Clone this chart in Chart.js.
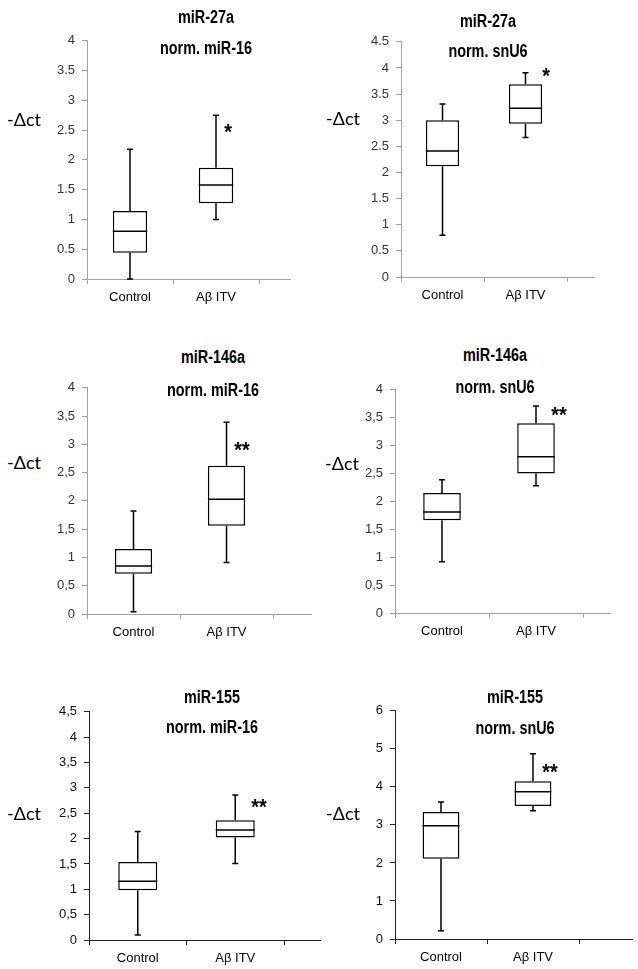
<!DOCTYPE html>
<html>
<head>
<meta charset="utf-8">
<script src="https://cdn.jsdelivr.net/npm/chart.js@4.4.1/dist/chart.umd.min.js"></script>
<style>
  body { margin: 0; background: #fff; }
  #page { position: relative; width: 638px; height: 969px; overflow: hidden; }
  canvas { position: absolute; }
  .title, .star, .ylab { position: absolute; white-space: nowrap; text-align: center; }
  .title { font-family: "Liberation Sans", Arial, sans-serif; font-weight: bold; font-size: 18px; line-height: 20px; width: 200px; color: #000; transform: scaleX(0.8); transform-origin: 50% 50%; }
  .star { font-family: "Liberation Sans", Arial, sans-serif; font-weight: bold; font-size: 22px; line-height: 22px; width: 40px; color: #000; transform: scaleX(0.9); }
  .ylab { font-family: Lato, "Open Sans", sans-serif; font-size: 18px; line-height: 20px; text-align: left; color: #000; }
</style>
</head>
<body>
<div id="page"></div>
<script>
// categories on the x axis
const categories = ["Control", "Aβ ITV"];

// five-number summaries per group: [whisker low, Q1, median, Q3, whisker high]
const miR27a_miR16 = [[0.00, 0.44, 0.80, 1.14, 2.18], [1.00, 1.27, 1.58, 1.87, 2.75]];
const miR27a_snU6 = [[0.80, 2.12, 2.41, 3.00, 3.31], [2.67, 2.93, 3.23, 3.69, 3.91]];
const miR146a_miR16 = [[0.04, 0.71, 0.85, 1.15, 1.82], [0.91, 1.56, 2.03, 2.62, 3.39]];
const miR146a_snU6 = [[0.92, 1.66, 1.81, 2.15, 2.39], [2.28, 2.50, 2.80, 3.40, 3.71]];
const miR155_miR16 = [[0.10, 0.98, 1.16, 1.54, 2.14], [1.51, 2.02, 2.17, 2.36, 2.86]];
const miR155_snU6 = [[0.22, 2.11, 2.98, 3.34, 3.60], [3.37, 3.50, 3.87, 4.15, 4.87]];

// y axis ticks
const yMax = [4, 4.5, 4, 4, 4.5, 6];
const yStep = [0.5, 0.5, 0.5, 0.5, 0.5, 1];
const decimalSep = [".", ".", ",", ",", ",", ","];

// texts
const titles = [
  ["miR-27a", "norm. miR-16"], ["miR-27a", "norm. snU6"],
  ["miR-146a", "norm. miR-16"], ["miR-146a", "norm. snU6"],
  ["miR-155", "norm. miR-16"], ["miR-155", "norm. snU6"]
];
const stars = ["*", "*", "**", "**", "**", "**"];
const yTitle = "-\u0394ct";

const summaries = [miR27a_miR16, miR27a_snU6, miR146a_miR16, miR146a_snU6, miR155_miR16, miR155_snU6];

// layout of each panel (page pixels): plot area, axis extension, text anchors
const panels = [
  { L: 87, T: 36, R: 259, B: 279, ext: 32, axis: "#a0a0a0", tickCol: "#333", title: [206, 17, 48], star: [228, 127], ylab: [7, 119] },
  { L: 401, T: 37, R: 567, B: 277, ext: 28, axis: "#a0a0a0", tickCol: "#333", title: [488, 21, 51], star: [546, 71], ylab: [326, 118] },
  { L: 87, T: 383, R: 273, B: 614, ext: 39, axis: "#a0a0a0", tickCol: "#333", title: [213, 357, 390], star: [242, 445], ylab: [7, 462] },
  { L: 395, T: 385, R: 583, B: 613, ext: 28, axis: "#a0a0a0", tickCol: "#333", title: [495, 355, 387], star: [559, 410], ylab: [325, 463] },
  { L: 89, T: 707, R: 284, B: 940, ext: 37, axis: "#222", tickCol: "#111", title: [212, 697, 727], star: [259, 802], ylab: [7, 813] },
  { L: 395, T: 706, R: 579, B: 939, ext: 54, axis: "#222", tickCol: "#111", title: [515, 697, 728], star: [550, 767], ylab: [326, 813] }
];

const Y_W = 44, X_H = 32, PAD_T = 10;

// draws median line and whiskers on top of the floating Q1-Q3 bars
const boxWhiskers = {
  id: "boxWhiskers",
  afterDatasetsDraw(chart, args, opts) {
    const ctx = chart.ctx;
    const y = chart.scales.y;
    const meta = chart.getDatasetMeta(0);
    ctx.save();
    ctx.strokeStyle = "#000";
    ctx.lineWidth = 1.5;
    meta.data.forEach((bar, i) => {
      const s = opts.summary[i];
      const half = bar.width / 2;
      const yMin = y.getPixelForValue(s[0]);
      const yQ1 = y.getPixelForValue(s[1]);
      const yMed = y.getPixelForValue(s[2]);
      const yQ3 = y.getPixelForValue(s[3]);
      const yHi = y.getPixelForValue(s[4]);
      ctx.beginPath();
      ctx.moveTo(bar.x - half, yMed);
      ctx.lineTo(bar.x + half, yMed);
      ctx.moveTo(bar.x, yQ3);
      ctx.lineTo(bar.x, yHi);
      ctx.moveTo(bar.x - 3, yHi);
      ctx.lineTo(bar.x + 3, yHi);
      ctx.moveTo(bar.x, yQ1);
      ctx.lineTo(bar.x, yMin);
      ctx.moveTo(bar.x - 3, yMin);
      ctx.lineTo(bar.x + 3, yMin);
      ctx.stroke();
    });
    ctx.restore();
  },
  afterDraw(chart, args, opts) {
    // x axis line runs on past the last tick
    const ctx = chart.ctx;
    const a = chart.chartArea;
    ctx.save();
    ctx.strokeStyle = opts.axisColor;
    ctx.lineWidth = 1;
    ctx.beginPath();
    ctx.moveTo(a.right, a.bottom + 0.5);
    ctx.lineTo(a.right + opts.ext, a.bottom + 0.5);
    ctx.stroke();
    ctx.restore();
  }
};

const page = document.getElementById("page");

function addText(cls, text, left, top) {
  const d = document.createElement("div");
  d.className = cls;
  d.textContent = text;
  d.style.left = left + "px";
  d.style.top = top + "px";
  page.appendChild(d);
}

panels.forEach((p, k) => {
  const canvas = document.createElement("canvas");
  const w = p.R - p.L + Y_W + p.ext + 8;
  const h = p.B - p.T + PAD_T + X_H;
  canvas.width = w;
  canvas.height = h;
  canvas.style.left = (p.L - Y_W) + "px";
  canvas.style.top = (p.T - PAD_T) + "px";
  canvas.style.width = w + "px";
  canvas.style.height = h + "px";
  page.appendChild(canvas);

  const tickFont = { family: "'Liberation Sans', Arial, sans-serif", size: 13 };
  const sep = decimalSep[k];

  new Chart(canvas.getContext("2d"), {
    type: "bar",
    data: {
      labels: categories,
      datasets: [{
        data: summaries[k].map((s) => [s[1], s[3]]),
        backgroundColor: "#fff",
        borderColor: "#000",
        borderWidth: 1.5,
        borderSkipped: false,
        barPercentage: 0.8,
        categoryPercentage: 0.5
      }]
    },
    options: {
      responsive: false,
      animation: false,
      devicePixelRatio: 1,
      layout: { padding: { top: PAD_T, right: p.ext + 8, left: 0, bottom: 0 } },
      plugins: {
        legend: { display: false },
        tooltip: { enabled: false },
        boxWhiskers: { summary: summaries[k], ext: p.ext, axisColor: p.axis }
      },
      scales: {
        x: {
          type: "category",
          offset: true,
          grid: { display: true, offset: true, drawOnChartArea: false, drawTicks: true, tickLength: 5, color: p.axis },
          border: { display: true, color: p.axis, width: 1 },
          ticks: { color: "#000", font: tickFont, padding: 6, maxRotation: 0 },
          afterFit(scale) { scale.height = X_H; }
        },
        y: {
          min: 0,
          max: yMax[k],
          grid: { display: true, drawOnChartArea: false, drawTicks: true, tickLength: 5, color: p.axis },
          border: { display: true, color: p.axis, width: 1 },
          ticks: {
            stepSize: yStep[k],
            color: p.tickCol,
            font: tickFont,
            padding: 7,
            callback: (v) => String(v).replace(".", sep)
          },
          afterFit(scale) { scale.width = Y_W; }
        }
      }
    },
    plugins: [boxWhiskers]
  });

  addText("title", titles[k][0], p.title[0] - 100, p.title[1] - 10);
  addText("title", titles[k][1], p.title[0] - 100, p.title[2] - 10);
  addText("star", stars[k], p.star[0] - 20, p.star[1] - 6);
  addText("ylab", yTitle, p.ylab[0], p.ylab[1] - 10);
});
</script>
</body>
</html>
